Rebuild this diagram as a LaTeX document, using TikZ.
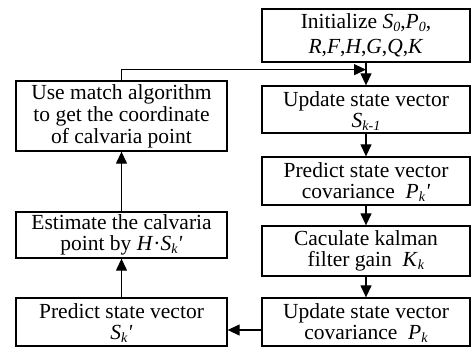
\documentclass[tikz,border=0pt]{standalone}
\usepackage{fontspec}
\setmainfont{Liberation Serif}
\usetikzlibrary{arrows.meta}
\newcommand\ssub[2]{\textit{#1}\raisebox{-0.3ex}[0pt][0pt]{\fontsize{14}{14}\selectfont\textit{#2}}}
\newcommand\prm{\textit{\textquotesingle}}

\begin{document}
\begin{tikzpicture}[x=1pt,y=-1pt,
  box/.style={draw, line width=1.3pt, align=center, inner sep=2pt,
    font=\fontsize{21.5}{21}\selectfont},
  rbox/.style={box, minimum width=208pt},
  lbox/.style={box, minimum width=211pt},
  arr/.style={draw, line width=1.2pt, -{Triangle[length=12pt,width=11pt]}}]
\useasboundingbox (0,0) rectangle (471,346);
% right column
\node[rbox, minimum height=53pt] (init) at (366,35.5)
  {Initialize \ssub{S}{0},\ssub{P}{0},\\[4pt] \textit{R},\textit{F},\textit{H},\textit{G},\textit{Q},\textit{K}};
\node[rbox, minimum height=47pt] (upd) at (366,109.5) {Update state vector\\ \ssub{S}{k-1}};
\node[rbox, minimum height=48pt] (pred) at (366,181) {Predict state vector\\ covariance\ \ \ssub{P}{k}\prm};
\node[rbox, minimum height=50pt] (gain) at (366,251) {Caculate kalman\\ filter gain\ \ \ssub{K}{k}};
\node[rbox, minimum height=48pt] (cov) at (366,322) {Update state vector\\ covariance\ \ \ssub{P}{k}};
% left column
\node[lbox, minimum height=48pt] (prs) at (121.5,322) {Predict state vector\\ \ssub{S}{k}\prm};
\node[lbox, minimum height=46pt] (est) at (121.5,235) {Estimate the calvaria\\ point by \textit{H}\textperiodcentered\ssub{S}{k}\prm};
\node[lbox, minimum height=70pt] (match) at (121.5,116) {Use match algorithm\\[1pt] to get the coordinate\\[1pt] of calvaria point};
% arrows
\path[arr] (init) -- (upd);
\path[arr] (upd) -- (pred);
\path[arr] (pred) -- (gain);
\path[arr] (gain) -- (cov);
\path[arr] ([yshift=-8pt]cov.west) -- ([yshift=-8pt]prs.east);
\path[arr] (prs) -- (est);
\path[arr] (est) -- (match);
\path[arr] (match.north) |- ([yshift=-7pt]init.south);
\end{tikzpicture}
\end{document}
